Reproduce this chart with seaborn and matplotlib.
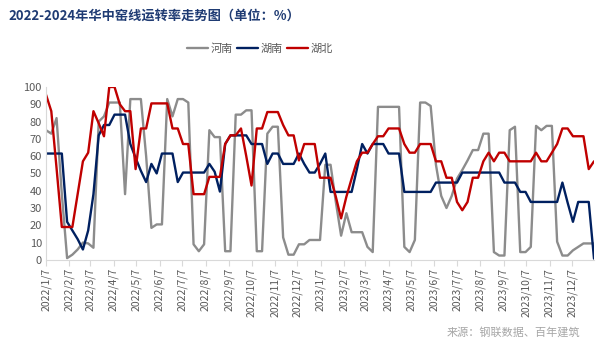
import matplotlib
matplotlib.use('Agg')
import numpy as np
import pandas as pd
import matplotlib.pyplot as plt
import seaborn as sns

# weekly kiln-line operating rate (%), 2022/1/7 .. 2024/1/5
dates = pd.date_range('2022-01-07', periods=105, freq='7D')

henan = [75, 73, 82, 38, 1, 3, 6, 10, 9.5, 7,
         80, 83, 91, 91, 91, 38, 93, 93, 93, 60,
         18.5, 20.5, 20.5, 93, 83, 93, 93, 91, 9, 5,
         9, 75, 71, 71, 5, 5, 84, 84, 86.5, 86.5,
         5, 5, 73, 77, 77, 13, 3, 3, 9, 9,
         11.5, 11.5, 11.5, 55, 55, 33.5, 14, 27, 16, 16,
         16, 7.5, 4.5, 88.5, 88.5, 88.5, 88.5, 88.5, 7.5, 4.5,
         11.5, 91, 91, 89, 55, 37, 30, 37, 47, 52,
         57.5, 63.5, 63.5, 73, 73, 4.5, 2.5, 2.5, 75, 77,
         4.5, 4.5, 7.5, 77.5, 75, 77.5, 77.5, 10.5, 2.5, 2.5,
         5.5, 7.5, 9.5, 9.5, 9.5]

hunan = [61.5, 61.5, 61.5, 61.5, 22, 17, 12, 6, 17, 38,
         72, 78, 78, 84, 84, 84, 67, 59, 51.5, 45,
         55.5, 50, 61.5, 61.5, 61.5, 45, 50.5, 50.5, 50.5, 50.5,
         50.5, 55.5, 51, 39.5, 67, 72, 72, 72, 72, 67,
         67, 67, 55.5, 61.5, 61.5, 55.5, 55.5, 55.5, 61.5, 55.5,
         50.5, 50.5, 55.5, 61.5, 39.3, 39.3, 39.3, 39.3, 39.3, 52.5,
         67, 61.5, 67, 67, 67, 61.5, 61.5, 61.5, 39.3, 39.3,
         39.3, 39.3, 39.3, 39.3, 44.7, 44.7, 44.7, 44.7, 44.7, 50.5,
         50.5, 50.5, 50.5, 50.5, 50.5, 50.5, 50.5, 44.7, 44.7, 44.7,
         39.3, 39.3, 33.5, 33.5, 33.5, 33.5, 33.5, 33.5, 44.7, 33,
         22, 33.5, 33.5, 33.5, 0.7]

hubei = [95.5, 86, 53, 19, 19, 19, 38, 57, 62, 86,
         79, 71.5, 100, 100, 90, 86, 86, 52.5, 76, 76,
         90.5, 90.5, 90.5, 90.5, 76, 76, 67, 67, 38, 38,
         38, 48, 48, 48, 67, 72, 72, 76, 60, 43,
         76, 76, 85.5, 85.5, 85.5, 78, 72, 72, 57.5, 67,
         67, 67, 47.5, 47.5, 47.5, 36.5, 24, 36.5, 47, 57,
         62, 62, 67, 71.5, 71.5, 76, 76, 76, 67, 62,
         62, 67, 67, 67, 57, 57, 47.5, 47.5, 33.5, 28.7,
         33.5, 47.5, 47.5, 57, 62, 57, 62, 62, 57, 57,
         57, 57, 57, 62, 57, 57, 62, 67, 76, 76,
         71.5, 71.5, 71.5, 52.5, 57]

provinces = ['河南', '湖南', '湖北']
colors = ['#8C8C8C', '#002060', '#C00000']

df = pd.DataFrame({
    'date': np.tile(dates, 3),
    'rate': henan + hunan + hubei,
    'prov': np.repeat(provinces, len(dates)),
})

sns.set_style('white')
plt.rcParams['font.family'] = ['Noto Sans CJK SC', 'DejaVu Sans']

fig = plt.figure(figsize=(6.08, 3.55), dpi=100)
ax = fig.add_axes([0.0757, 0.268, 0.9013, 0.487])

sns.lineplot(data=df, x='date', y='rate', hue='prov', hue_order=provinces,
             palette=colors, linewidth=1.7, ax=ax)

ticks = [pd.Timestamp(2022 + m // 12, m % 12 + 1, 7) for m in range(24)]
ax.set_xticks(ticks)
ax.set_xticklabels([f'{d.year}/{d.month}/{d.day}' for d in ticks],
                   rotation=90, fontsize=7.5, color='#595959')
ax.set_yticks(range(0, 101, 10))
ax.set_yticklabels([str(v) for v in range(0, 101, 10)], fontsize=8, color='#595959')
ax.set_xlim(dates[0], dates[-1])
ax.set_ylim(0, 100)
ax.set_xlabel('')
ax.set_ylabel('')

for s in ['top', 'right']:
    ax.spines[s].set_visible(False)
for s in ['left', 'bottom']:
    ax.spines[s].set_color('#D9D9D9')
ax.tick_params(axis='x', length=4, color='#D9D9D9', pad=2, bottom=True)
ax.tick_params(axis='y', length=0, pad=3)

ax.legend(loc='center', bbox_to_anchor=(260 / 608, 1 - 49 / 355),
          bbox_transform=fig.transFigure, ncol=3, frameon=False,
          fontsize=8, handlelength=1.9, handletextpad=0.25,
          columnspacing=0.35, labelcolor='#595959')

fig.text(8 / 608, 1 - 16 / 355, '2022-2024年华中窑线运转率走势图（单位：%）',
         fontsize=9.5, fontweight='bold', color='#1F3B73', ha='left', va='center')
fig.text(580 / 608, 1 - 332 / 355, '来源：钢联数据、百年建筑',
         fontsize=8, color='#A6A6A6', ha='right', va='center')

fig.savefig('out.png', dpi=100)
